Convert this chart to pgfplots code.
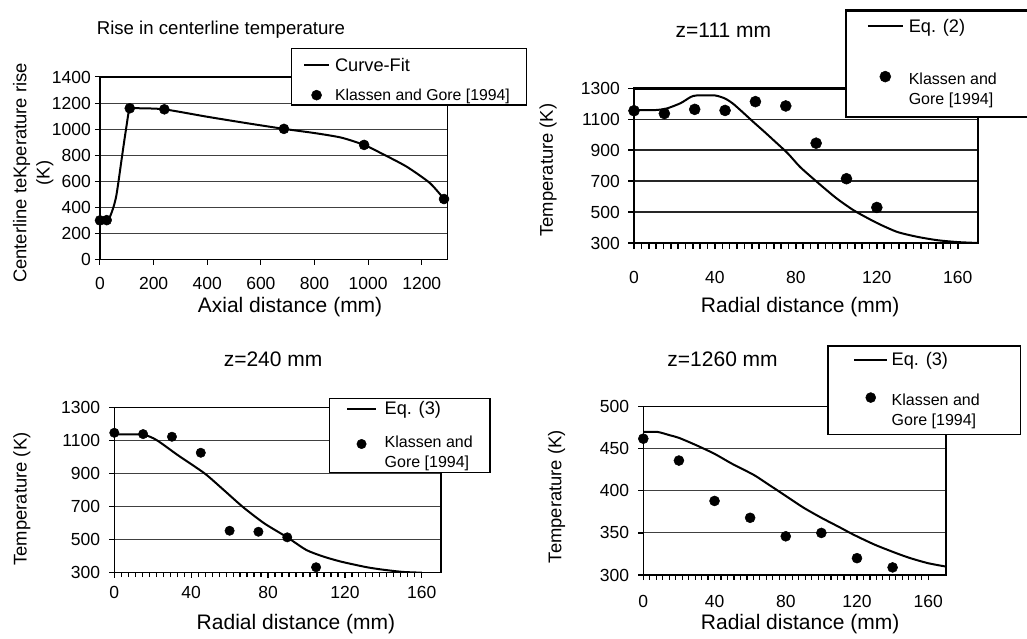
\documentclass[border=0pt]{standalone}
\usepackage{fontspec}
\setmainfont{Liberation Sans}
\usepackage{pgfplots}
\pgfplotsset{compat=1.18}

\newcommand{\fs}[2]{\fontsize{#1}{#2}\selectfont}

\pgfplotsset{
  panel/.style={
    scale only axis, anchor=south west,
    axis line style={line width=1.2pt},
    ymajorgrids, grid style={line width=0.9pt, black!75},
    tick align=outside, tick style={black, line width=1pt},
    major tick length=5pt, minor tick length=4.5pt,
    xtick pos=left, ytick pos=left,
    /pgf/number format/assume math mode=true,
    /pgf/number format/1000 sep={},
    tick label style={font=\fs{17.5}{20}},
    xticklabel style={anchor=center},
    yticklabel style={anchor=east, inner sep=0pt},
    title style={anchor=center, font=\fs{21}{24}},
    xlabel style={anchor=center, font=\fs{21}{24}},
    ylabel style={anchor=center, font=\fs{18.4}{23.3}},
    legend cell align=left,
    legend style={anchor=north west, fill=white, draw=black, line width=1.5pt,
      cells={align=left}, nodes={inner sep=0pt, font=\fs{16}{19.5}},
      column sep=5pt},
  },
  curve/.style={black, line width=2pt, smooth, tension=0.4},
  pts/.style={only marks, mark=*, black, mark options={line width=0.5pt}},
  % legend images: length, vertical offset of the line
  lineleg/.style n args={2}{legend image code/.code={\path[draw=none] (0pt,-4pt) -- (#1,4pt);
    \draw[##1] (0pt,#2) -- (#1,#2);}},
  % length, half length, vertical offset of the mark, half height of the cell
  markleg/.style n args={4}{legend image code/.code={\path[draw=none] (0pt,-#4) -- (#1,#4);
    \draw[mark repeat=2,mark phase=2,##1] plot coordinates {(0pt,#3) (#2,#3) (#1,#3)};}},
}

\begin{document}
\begin{tikzpicture}
\useasboundingbox (0pt,0pt) rectangle (1027pt,638pt);

% top left: centerline rise
\begin{axis}[panel, at={(100pt,378.5pt)}, width=347.5pt, height=182.5pt,
  xmin=0, xmax=1296, ymin=0, ymax=1400,
  xtick={0,200,...,1200}, ytick={0,200,...,1400},
  xticklabel style={yshift=-19pt}, yticklabel style={xshift=-4pt},
  title={Rise in centerline temperature},
  title style={at={(axis description cs:0.348,1.225)}, font=\fs{18.6}{22}},
  xlabel={Axial distance (mm)}, xlabel style={at={(axis description cs:0.547,-0.259)}},
  ylabel={Centerline teKperature rise\\(K)},
  ylabel style={align=center, at={(axis description cs:-0.192,0.474)}},
  legend style={at={(axis description cs:0.549,1.159)}, inner xsep=11.7pt, inner ysep=3.3pt,
    row sep=15.9pt, line width=1.2pt},
]
\addplot[curve, lineleg={25pt}{-3pt}] coordinates {
  (0,300) (25,305) (37,328) (50,400) (60,480) (68,584) (80,760) (91,917)
  (100,1040) (106,1121) (111,1160) (150,1160) (240,1152) (400,1095)
  (550,1045) (686,1002) (800,970) (900,935) (985,879) (1044,820)
  (1143,713) (1230,587) (1283,464)
};
\addlegendentry{\fs{18.2}{22}\rule{0pt}{19.4pt}Curve-Fit}
\addplot[pts, mark size=5pt, markleg={25pt}{12.5pt}{0pt}{6pt}] coordinates {
  (0,300) (25,302) (111,1160) (240,1152) (686,1002) (985,879) (1283,464)
};
\addlegendentry{\fs{15.8}{19}\makebox[180pt][l]{Klassen and Gore [1994]}}
\end{axis}

% top right: z=111 mm
\begin{axis}[panel, at={(634pt,395pt)}, width=344pt, height=154.5pt,
  axis line style={line width=2.2pt}, grid style={line width=1.6pt, black!85},
  xmin=0, xmax=170, ymin=300, ymax=1300,
  xtick={0,40,...,160}, minor x tick num=10, ytick={300,500,...,1300},
  major tick length=6pt, minor tick length=5.5pt, tick style={line width=1.6pt},
  xticklabel style={yshift=-28pt}, yticklabel style={xshift=-8pt},
  title={z=111 mm}, title style={at={(axis description cs:0.26,1.34)}},
  xlabel={Radial distance (mm)}, xlabel style={at={(axis description cs:0.483,-0.412)}},
  ylabel={Temperature (K)}, ylabel style={at={(axis description cs:-0.25,0.472)}},
  legend style={at={(axis description cs:0.613,1.513)}, inner xsep=20.7pt, inner ysep=8.6pt,
    row sep=36.5pt, line width=2.4pt},
]
\addplot[curve, lineleg={35pt}{0pt}] coordinates {
  (0,1160) (10,1160) (16,1170) (23,1205) (28,1245) (31,1255) (40,1255)
  (45,1235) (49,1201) (54,1143) (59,1083) (64,1025) (69,965) (76,880)
  (82,793) (90,700) (100,590) (109,508) (120,430) (130,372) (140,340)
  (150,318) (160,306) (170,300)
};
\addlegendentry{\fs{18.2}{22}Eq. (2)}
\addplot[pts, mark size=5.5pt, markleg={35pt}{17.5pt}{12.6pt}{19pt}] coordinates {
  (0,1156) (15,1138) (30,1165) (45,1158) (60,1215) (75,1187) (90,946) (105,716) (120,530)
};
\addlegendentry{\makebox[140pt][l]{Klassen and}\\[0.5pt]Gore [1994]\rule[-17.9pt]{0pt}{0pt}}
\end{axis}

% bottom left: z=240 mm
\begin{axis}[panel, at={(114.3pt,65.3pt)}, width=326.7pt, height=165.2pt,
  axis line style={line width=1.5pt}, tick style={line width=1.2pt},
  xmin=0, xmax=170, ymin=300, ymax=1300,
  xtick={0,40,...,160}, minor x tick num=10, ytick={300,500,...,1300},
  xticklabel style={yshift=-15pt}, yticklabel style={xshift=-9pt},
  title={z=240 mm}, title style={at={(axis description cs:0.486,1.257)}},
  xlabel={Radial distance (mm)}, xlabel style={at={(axis description cs:0.556,-0.31)}},
  ylabel={Temperature (K)}, ylabel style={at={(axis description cs:-0.283,0.446)}},
  legend style={at={(axis description cs:0.657,1.058)}, inner xsep=16.7pt, inner ysep=3.1pt,
    row sep=19.8pt, line width=1.5pt, column sep=8pt},
]
\addplot[curve, lineleg={28.3pt}{0pt}] coordinates {
  (0,1138) (15,1135) (22,1103) (33,1012) (47,901) (57,800) (67,697)
  (78,599) (90,514) (100,437) (109,397) (118,367) (131,334) (140,318)
  (150,305) (160,300)
};
\addlegendentry{\fs{18.2}{22}Eq. (3)}
\addplot[pts, mark size=4.7pt, markleg={28.3pt}{14.15pt}{8.8pt}{14.5pt}] coordinates {
  (0,1147) (15,1139) (30,1123) (45,1026) (60,554) (75,548) (90,514) (105,333)
};
\addlegendentry{\makebox[88.6pt][l]{Klassen and}\\[0.5pt]Gore [1994]\rule[-7.7pt]{0pt}{0pt}}
\end{axis}

% bottom right: z=1260 mm
\begin{axis}[panel, at={(643.3pt,63pt)}, width=302.7pt, height=168.3pt,
  axis line style={line width=1.5pt}, tick style={line width=1.2pt},
  xmin=0, xmax=170, ymin=300, ymax=500,
  xtick={0,40,...,160}, minor x tick num=10, ytick={300,350,...,500},
  xticklabel style={yshift=-21pt}, yticklabel style={xshift=-9pt},
  title={z=1260 mm}, title style={at={(axis description cs:0.262,1.248)}},
  xlabel={Radial distance (mm)}, xlabel style={at={(axis description cs:0.518,-0.291)}},
  ylabel={Temperature (K)}, ylabel style={at={(axis description cs:-0.286,0.465)}},
  legend style={at={(axis description cs:0.608,1.364)}, inner xsep=25pt, inner ysep=6.4pt,
    row sep=24.8pt, line width=1.5pt, column sep=3.3pt},
]
\addplot[curve, lineleg={33.3pt}{0pt}] coordinates {
  (0,470) (8,470) (15,466) (20,463) (30,454) (40,444) (50,432) (62,419)
  (70,408) (80,394) (90,380) (100,368) (110,357) (118,348) (130,336)
  (142,326) (150,320) (160,314) (170,310)
};
\addlegendentry{\fs{18.2}{22}Eq. (3)}
\addplot[pts, mark size=5pt, markleg={33.3pt}{16.65pt}{12.5pt}{18pt}] coordinates {
  (0,462) (20,436) (40,388) (60,368) (80,346) (100,350) (120,320) (140,309)
};
\addlegendentry{\makebox[104pt][l]{Klassen and}\\[0.5pt]Gore [1994]\rule[-14.8pt]{0pt}{0pt}}
\end{axis}
\end{tikzpicture}
\end{document}
